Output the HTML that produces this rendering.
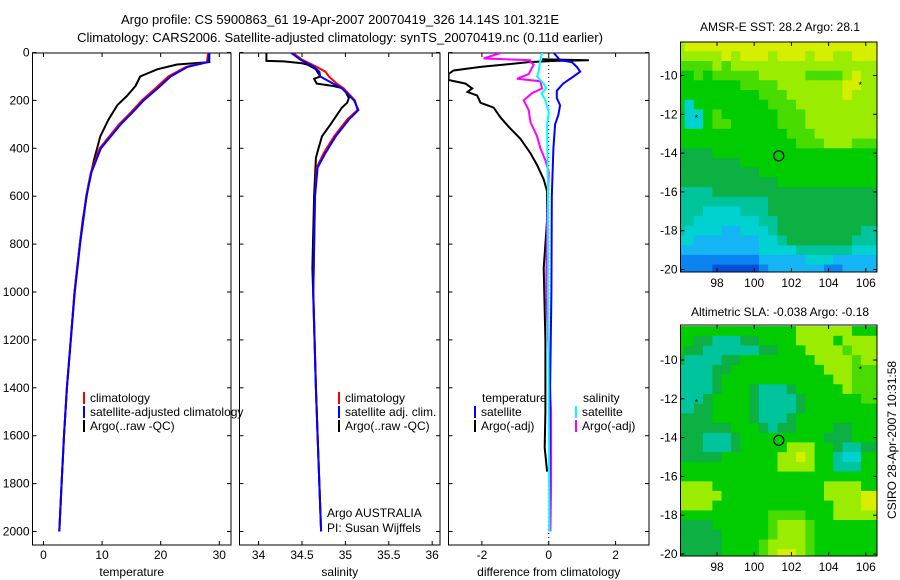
<!DOCTYPE html>
<html><head><meta charset="utf-8"><style>
html,body{margin:0;padding:0;background:#fff;}
svg{display:block;font-family:"Liberation Sans",sans-serif;}
text{fill:#000;}
</style></head><body>
<svg id="c" width="900" height="580" viewBox="0 0 900 580">
<text x="340" y="24" font-size="13" text-anchor="middle">Argo profile: CS 5900863_61 19-Apr-2007 20070419_326 14.14S 101.321E</text>
<text x="340" y="42" font-size="13" text-anchor="middle">Climatology: CARS2006. Satellite-adjusted climatology: synTS_20070419.nc (0.11d earlier)</text>
<text x="780" y="31" font-size="12" text-anchor="middle">AMSR-E SST: 28.2 Argo: 28.1</text>
<text x="780" y="316" font-size="12" text-anchor="middle">Altimetric SLA: -0.038 Argo: -0.18</text>
<text transform="translate(896,440) rotate(-90)" font-size="12" text-anchor="middle">CSIRO 28-Apr-2007 10:31:58</text>
<g id="plots"></g>
</svg>
<script>
// ---- profile data (depth in m) ----
const climDepth=[0,40,60,100,150,200,250,300,400,500,600,800,1000,1400,1600,1800,2000];
const climTemp=[28.1,27.9,24.3,21.3,19.1,16.8,14.9,12.9,9.6,8.1,7.3,6.2,5.3,4.0,3.5,3.1,2.7];
const satTemp=[28.3,28.1,24.6,21.7,19.5,17.1,15.2,13.2,9.8,8.2,7.35,6.25,5.35,4.0,3.5,3.1,2.7];
const argoTempDepth=[0,40,50,70,100,140,180,220,280,350,450,550,700,800,1000,1400,1600,1800,2000];
const argoTemp=[28.3,28.3,22.8,19.4,16.5,15.7,14.3,12.6,11.1,9.7,8.6,7.7,6.7,6.2,5.3,4.0,3.5,3.1,2.7];

const salDepth=[0,30,60,80,100,130,150,200,240,280,350,420,480,600,1000,1400,1600,2000];
const climSal=[34.39,34.50,34.67,34.77,34.81,34.90,34.98,35.11,35.14,35.02,34.87,34.75,34.67,34.65,34.63,34.66,34.68,34.72];
const satSal=[34.37,34.48,34.64,34.70,34.71,34.86,34.96,35.10,35.15,35.04,34.89,34.77,34.68,34.65,34.63,34.66,34.68,34.72];
const argoSalDepth=[0,35,37,45,50,70,100,110,130,140,150,190,210,230,300,350,400,440,600,900,1400,1600,2000];
const argoSal=[34.09,34.09,34.29,34.5,34.56,34.66,34.71,34.64,34.67,34.86,34.98,35.04,35.02,34.96,34.83,34.73,34.69,34.66,34.64,34.62,34.66,34.68,34.72];

const dTsatDepth=[0,32,40,60,80,100,130,160,190,220,260,300,400,600,1000,1500,2000];
const dTsat=[0.14,0.34,0.69,0.84,0.94,0.74,0.43,0.24,0.24,0.34,0.29,0.19,0.14,0.09,0.08,0.03,0.02];
const dSsatDepth=[0,30,80,100,130,150,170,200,250,300,400,600,1000,1500,2000];
const dSsat=[-0.2,-0.25,-0.3,-0.35,-0.15,-0.07,-0.22,-0.1,0,-0.05,-0.04,-0.02,-0.02,0.0,0.02];
const dTargoDepth=[28,32,35,40,50,60,75,90,115,130,150,165,180,210,230,270,310,360,420,470,530,580,700,900,1200,1500,1650,1750];
const dTargo=[-0.2,1.2,0.2,-0.6,-1.3,-2.04,-2.85,-3.0,-3.0,-2.49,-2.29,-2.43,-2.14,-2.04,-1.65,-1.45,-1.2,-0.85,-0.55,-0.35,-0.15,-0.05,-0.05,-0.15,-0.1,-0.1,-0.12,-0.05];
const dSargoDepth=[0,25,32,40,50,90,110,120,150,170,200,240,290,350,400,450,500,700,1000,1500,1800,2000];
const dSargo=[-1.4,-1.95,-0.55,-0.55,-0.45,-0.6,-0.95,-0.25,-0.2,-0.5,-0.75,-0.6,-0.55,-0.35,-0.25,-0.1,0,-0.05,-0.08,0.07,0.07,0.05];

const depthTicks=[0,200,400,600,800,1000,1200,1400,1600,1800,2000];
const tempTicks=[0,10,20,30];
const salTicks=[34,34.5,35,35.5,36];
const diffTicks=[-2,0,2];
const latTicks=[-10,-12,-14,-16,-18,-20];
const lonTicks=[98,100,102,104,106];

// ---- map data: rows lat -8.5 .. -20 step 0.5, cols lon 96 .. 106 step 0.5 (colour level 0-9) ----
const sstRows=["899999999999999999999","888889899989998998899","777787888888888888888","667677777888887777898",
"666666677778888888998","666666666777888888988","636666666677788888888","633676666667778888888","633677666667778888888",
"666666666666777888888","666666666666677788877","555566666666666666666","555555566666666666666","555555555666666666666",
"555555555556666666666","444455555555555555555","444444444455555555555","444333344455555555555","443333333445555555555",
"433332233345555555554","332222222334555555544","222222222333344444433","111111111222223332222","111100000122222211222"];
const slaRows=["666666666666688888866","665544455666688886888","655444444556668888788","544445566666666888878",
"444455666666666688877","444456666666666668877","444456665444566666877","444566665444456666667","445566665444456666666",
"555566665444566666666","555555666545566665566","555444566666666655566","555444566666888665445","555556666668898664336",
"666666666668888664446","666666666666666666666","888866666666666688886","888886666666666688889","888866666666666668889",
"666666666677776668888","555566666678887666666","555556666678887666666","555556666788887666666","555556666789987666666"];
const argoLon=101.321, argoLat=-14.14;
const palette=["#0050d8","#0a84f0","#14b4f5","#00d2d2","#00c49c","#0cb043","#00cc00","#48dc00","#9aec00","#d6ef00"];

const NS="http://www.w3.org/2000/svg";
const root=document.getElementById('plots');
function mk(tag,attrs,parent){const e=document.createElementNS(NS,tag);for(const k in attrs)e.setAttribute(k,attrs[k]);(parent||root).appendChild(e);return e;}

const topY=53, botY=545;
const yD=d=>52.5+d*0.2395;
const panels=[
 {name:'temperature',x0:32.5,x1:231,v0:-1.87,v1:32,ticks:tempTicks,label:'temperature'},
 {name:'salinity',x0:239.5,x1:440,v0:33.78,v1:36.09,ticks:salTicks,label:'salinity'},
 {name:'difference',x0:448.5,x1:649,v0:-3,v1:3,ticks:diffTicks,label:'difference from climatology'}];
panels.forEach(p=>{p.sx=v=>p.x0+(v-p.v0)/(p.v1-p.v0)*(p.x1-p.x0);});

panels.forEach((p,i)=>{
 const g=mk('g',{});
 
 
 const cp=mk('clipPath',{id:'cp'+i},g);mk('rect',{x:p.x0,y:topY,width:p.x1-p.x0,height:botY-topY},cp);
 const box=mk('rect',{x:p.x0,y:topY,width:p.x1-p.x0,height:botY-topY,fill:'#fff',stroke:'#000','stroke-width':1},g);
 
 
 depthTicks.forEach(d=>{
  mk('line',{x1:p.x0,x2:p.x0+4,y1:yD(d),y2:yD(d),stroke:'#000'},g);
  mk('line',{x1:p.x1,x2:p.x1-4,y1:yD(d),y2:yD(d),stroke:'#000'},g);
  if(i===0){const t=mk('text',{x:p.x0-3,y:yD(d)+4,'font-size':12,'text-anchor':'end'},g);t.textContent=d;
   
   }
 });
 p.ticks.forEach(v=>{
  const x=p.sx(v);
  mk('line',{x1:x,x2:x,y1:topY,y2:topY+4,stroke:'#000'},g);
  mk('line',{x1:x,x2:x,y1:botY,y2:botY-4,stroke:'#000'},g);
  const t=mk('text',{x:x,y:559,'font-size':12,'text-anchor':'middle'},g);t.textContent=v;
  
  
 });
 const xl=mk('text',{x:(p.x0+p.x1)/2,y:576,'font-size':12,'text-anchor':'middle'},g);xl.textContent=p.label;
 
 
 p.g=g;
});
{const p=panels[2];const l=mk('line',{x1:p.sx(0),x2:p.sx(0),y1:topY,y2:botY,stroke:'#000','stroke-dasharray':'1,3'},p.g);
 
 }

function series(pi,depths,vals,color,name,w){
 const p=panels[pi];
 const pts=depths.map((d,k)=>p.sx(vals[k]).toFixed(1)+','+yD(d).toFixed(1)).join(' ');
 const pl=mk('polyline',{points:pts,fill:'none',stroke:color,'stroke-width':w||2,'clip-path':'url(#cp'+pi+')'},p.g);
 
 
}
series(0,argoTempDepth,argoTemp,'#000','argo-temperature-line');
series(0,climDepth,climTemp,'#f00','climatology-temperature-line');
series(0,climDepth,satTemp,'#00f','satellite-temperature-line');
series(1,argoSalDepth,argoSal,'#000','argo-salinity-line');
series(1,salDepth,climSal,'#f00','climatology-salinity-line');
series(1,salDepth,satSal,'#00f','satellite-salinity-line');
series(2,dTargoDepth,dTargo,'#000','argo-temperature-diff-line');
series(2,dSargoDepth,dSargo,'#f0f','argo-salinity-diff-line');
series(2,dTsatDepth,dTsat,'#00f','satellite-temperature-diff-line');
series(2,dSsatDepth,dSsat,'#0ff','satellite-salinity-diff-line');

function legend(x,y,color,label,name){
 const g=mk('g',{});
 
 
 mk('rect',{x:x,y:y-10,width:2,height:12,fill:color},g);
 const t=mk('text',{x:x+7,y:y,'font-size':12},g);t.textContent=label;
}
legend(83,402,'#f00','climatology','legend-climatology');
legend(83,416,'#00f','satellite-adjusted climatology','legend-satellite-adjusted');
legend(83,430,'#000','Argo(..raw -QC)','legend-argo');
legend(338,402,'#f00','climatology','legend-sal-climatology');
legend(338,416,'#00f','satellite adj. clim.','legend-sal-satellite');
legend(338,430,'#000','Argo(..raw -QC)','legend-sal-argo');
{const t=mk('text',{x:482,y:402,'font-size':12});t.textContent='temperature';
 
 const s=mk('text',{x:583,y:402,'font-size':12});s.textContent='salinity';
 }
legend(474,416,'#00f','satellite','legend-diff-temp-satellite');
legend(474,430,'#000','Argo(-adj)','legend-diff-temp-argo');
legend(575,416,'#0ff','satellite','legend-diff-sal-satellite');
legend(575,430,'#f0f','Argo(-adj)','legend-diff-sal-argo');
{const a=mk('text',{x:327,y:517,'font-size':12});a.textContent='Argo AUSTRALIA';
 
 const b=mk('text',{x:327,y:532,'font-size':12});b.textContent='PI: Susan Wijffels';
 }

// ---- maps ----
function drawMap(rows,y0,y1,yLatm10,name,id){
 const x0=680.5,x1=877;
 const sx=lon=>717+(lon-98)*18.6;
 const sy=lat=>yLatm10+(-10-lat)*19.4;
 const g=mk('g',{});
 
 
 const cp=mk('clipPath',{id:id},g);mk('rect',{x:x0,y:y0,width:x1-x0,height:y1-y0},cp);
 const cells=mk('g',{'clip-path':'url(#'+id+')'},g);
 rows.forEach((row,j)=>{
  const lat=-8.5-0.5*j;
  for(let i=0;i<row.length;i++){
   const lon=96+0.5*i;
   const w=(i===row.length-1)?20:(0.5*18.6+0.6);
   const h=(j===rows.length-1)?20:(0.5*19.4+0.6);
   const r=mk('rect',{x:sx(lon-0.25).toFixed(1),y:sy(lat+0.25).toFixed(1),width:w.toFixed(1),height:h.toFixed(1),fill:palette[+row[i]]},cells);
   
   
  }
 });
 const c=mk('circle',{cx:sx(argoLon),cy:sy(argoLat),r:5,fill:'none',stroke:'#000','stroke-width':1.2},g);
 
 
 [[105.7,-10.5],[96.9,-12.2]].forEach(p=>{const m=mk('text',{x:sx(p[0]),y:sy(p[1])+3,'font-size':9,'text-anchor':'middle'},g);m.textContent='*';
  });
 const b=mk('rect',{x:x0,y:y0,width:x1-x0,height:y1-y0,fill:'none',stroke:'#000'},g);
 
 
 latTicks.forEach(l=>{const y=sy(l);
  mk('line',{x1:x0,x2:x0+4,y1:y,y2:y,stroke:'#000'},g);mk('line',{x1:x1,x2:x1-4,y1:y,y2:y,stroke:'#000'},g);
  const t=mk('text',{x:x0-3,y:y+4,'font-size':12,'text-anchor':'end'},g);t.textContent=l;
  });
 lonTicks.forEach(l=>{const x=sx(l);
  mk('line',{x1:x,x2:x,y1:y0,y2:y0+4,stroke:'#000'},g);mk('line',{x1:x,x2:x,y1:y1,y2:y1-4,stroke:'#000'},g);
  const t=mk('text',{x:x,y:y1+15,'font-size':12,'text-anchor':'middle'},g);t.textContent=l;
  });
}
drawMap(sstRows,42,272,75.5,'sst-map','mcp1');
drawMap(slaRows,325,556,360,'sla-map','mcp2');
</script>
</body></html>
